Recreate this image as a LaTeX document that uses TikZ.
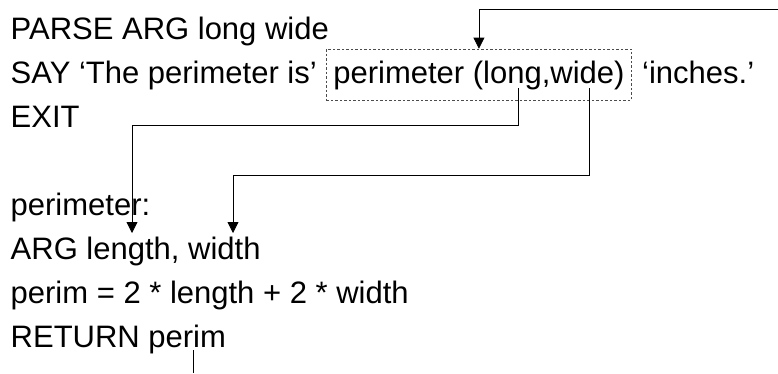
\documentclass[tikz,border=0pt]{standalone}
\usepackage{fontspec}
\setmainfont{Liberation Sans}
\usetikzlibrary{arrows.meta}

\begin{document}
\begin{tikzpicture}[x=1pt, y=1pt,
            code/.style={anchor=base west, inner sep=0pt, font=\fontsize{31}{37}\selectfont},
            callbox/.style={code, draw=black!70, dash pattern=on 2.5pt off 2pt, line width=0.7pt,
                inner xsep=7pt, inner ysep=0pt, text height=34pt, text depth=17pt},
            arr/.style={line width=0.8pt, -{Triangle[width=11pt, length=11pt]}},
            link/.style={line width=0.8pt}]
            \useasboundingbox (0, 0) rectangle (778, -373);

            \node[code] (parse) at (10.5, -39) {PARSE ARG long wide};
            \node[code] (say) at (10.5, -83) {SAY ‘The perimeter is’};
            \node[callbox] (call) at (326, -83) {perimeter (long,wide)};
            \node[code] (inches) at (642, -83) {‘inches.’};
            \node[code] (exit) at (10.5, -127) {EXIT};

            \node[code] (label) at (10.5, -215) {perimeter:};
            \node[code] (args) at (10.5, -259) {ARG length, width};
            \node[code] (calc) at (10.5, -303) {perim = 2 * length + 2 * width};
            \node[code] (ret) at (10.5, -347) {RETURN perim};

            \coordinate (caller) at (778, -9.5);
            \coordinate (long) at (518, -88);
            \coordinate (wide) at (589, -88);
            \coordinate (length) at (132, -233);
            \coordinate (width) at (233, -233);
            \coordinate (result) at (193, -350);

            \draw[arr] (caller) -| (call.north);
            \draw[arr] (long) -- ++(0, -37) -| (length);
            \draw[arr] (wide) -- ++(0, -87) -| (width);
            \draw[link] (result) -- ++(0, -23);

        \end{tikzpicture}
\end{document}
